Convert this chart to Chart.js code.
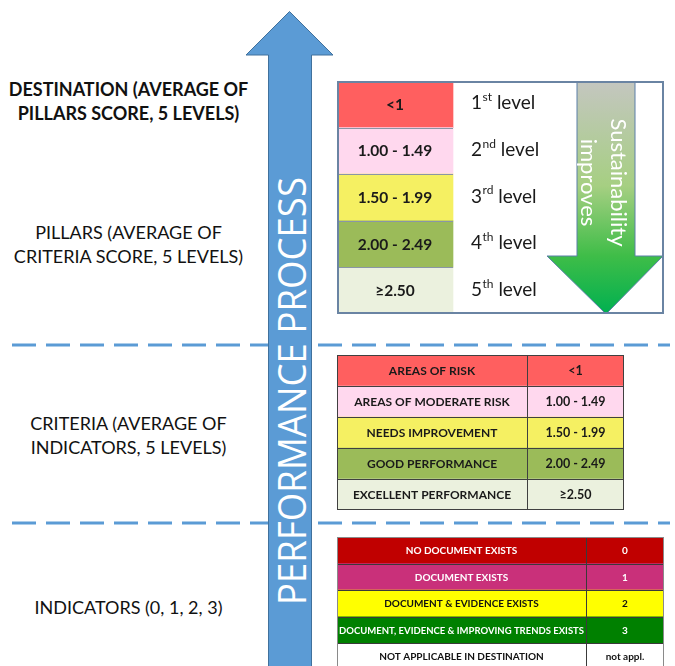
<!DOCTYPE html>
<html>
<head>
<meta charset="utf-8">
<script src="https://cdn.jsdelivr.net/npm/chart.js@4.4.1/dist/chart.umd.min.js"></script>
<style>
  html, body { margin: 0; padding: 0; background: #fff; }
  #stage { position: relative; width: 675px; height: 666px; overflow: hidden; font-family: Lato, "Open Sans", sans-serif; }
  #stage canvas, #stage svg { position: absolute; }
  .tier { position: absolute; left: 0; width: 257px; text-align: center; color: #111; font-size: 18px; line-height: 24.5px; white-space: nowrap; }
  .tier.bold { font-weight: bold; font-size: 18px; }
</style>
</head>
<body>
<div id="stage">
  <svg id="bg" width="675" height="666" style="left:0;top:0">
    <line x1="12" y1="345" x2="670" y2="345" stroke="#5b9bd5" stroke-width="3" stroke-dasharray="24 10" />
    <line x1="12" y1="523" x2="670" y2="523" stroke="#5b9bd5" stroke-width="3" stroke-dasharray="24 10" />
    <polygon points="289.5,11.5 333,55 311.5,55 311.5,670 268.5,670 268.5,55 246,55" fill="#5b9bd5" stroke="#41719c" stroke-width="1" />
    <text id="processText" x="291" y="391" transform="rotate(-90 291 391)" text-anchor="middle" dominant-baseline="central"
      textLength="428" lengthAdjust="spacingAndGlyphs" font-size="38" fill="#fff" font-family="'Open Sans', Lato, sans-serif"></text>
  </svg>
  <canvas id="pillarsTable" width="327" height="233" style="left:337px;top:81px"></canvas>
  <canvas id="criteriaTable" width="287" height="155" style="left:337px;top:355px"></canvas>
  <canvas id="indicatorTable" width="327" height="133" style="left:337px;top:537px"></canvas>
</div>
<script>
// ---- data ----
const processLabel = "PERFORMANCE PROCESS";
const tierLabels = [
  ["DESTINATION (AVERAGE OF", "PILLARS SCORE, 5 LEVELS)"],
  ["PILLARS (AVERAGE OF", "CRITERIA SCORE, 5 LEVELS)"],
  ["CRITERIA (AVERAGE OF", "INDICATORS, 5 LEVELS)"],
  ["INDICATORS (0, 1, 2, 3)"]
];
const scoreRanges = ["<1", "1.00 - 1.49", "1.50 - 1.99", "2.00 - 2.49", "≥2.50"];
const levelNumbers = ["1", "2", "3", "4", "5"];
const levelSuffixes = ["st", "nd", "rd", "th", "th"];
const levelWord = "level";
const improveLabel = ["Sustainability", "improves"];
const criteriaLabels = ["AREAS OF RISK", "AREAS OF MODERATE RISK", "NEEDS IMPROVEMENT", "GOOD PERFORMANCE", "EXCELLENT PERFORMANCE"];
const criteriaRanges = ["<1", "1.00 - 1.49", "1.50 - 1.99", "2.00 - 2.49", "≥2.50"];
const indicatorLabels = ["NO DOCUMENT EXISTS", "DOCUMENT EXISTS", "DOCUMENT & EVIDENCE EXISTS", "DOCUMENT, EVIDENCE & IMPROVING TRENDS EXISTS", "NOT APPLICABLE IN DESTINATION"];
const indicatorScores = ["0", "1", "2", "3", "not appl."];

// ---- styles ----
const levelFills = ["#ff5f5f", "#ffd8ee", "#f5f062", "#9bbb59", "#ebf1de"];
const indicatorFills = ["#c00000", "#c9307a", "#ffff00", "#008000", "#ffffff"];
const indicatorInk = ["#ffffff", "#ffffff", "#111111", "#ffffff", "#111111"];
const FONT = "Lato, 'Open Sans', sans-serif";

// left-hand labels
const tierTops = [76.5, 219.5, 410.5, 594.5];
const stage = document.getElementById("stage");
tierLabels.forEach((lines, i) => {
  const d = document.createElement("div");
  d.className = "tier" + (i === 0 ? " bold" : "");
  d.style.top = tierTops[i] + "px";
  d.innerHTML = lines.map(l => l.replace(/</g, "&lt;")).join("<br>");
  stage.appendChild(d);
});
document.getElementById("processText").textContent = processLabel;

// cell text, drawn at each bar's centre
const cellText = {
  id: "cellText",
  afterDatasetsDraw(chart) {
    const ctx = chart.ctx;
    chart.data.datasets.forEach((ds, di) => {
      if (!ds.texts) return;
      const meta = chart.getDatasetMeta(di);
      meta.data.forEach((bar, i) => {
        const left = Math.min(bar.x, bar.base), right = Math.max(bar.x, bar.base);
        ctx.save();
        ctx.fillStyle = Array.isArray(ds.ink) ? ds.ink[i] : ds.ink;
        ctx.textBaseline = "middle";
        ctx.font = ds.font;
        if (ds.sups) {
          let x = left + ds.pad;
          ctx.textAlign = "left";
          ctx.fillText(ds.texts[i], x, bar.y - 1);
          x += ctx.measureText(ds.texts[i]).width;
          ctx.font = ds.supFont;
          ctx.fillText(ds.sups[i], x + 0.5, bar.y - 7);
          x += ctx.measureText(ds.sups[i]).width + 0.5;
          ctx.font = ds.font;
          ctx.fillText(" " + ds.word, x, bar.y - 1);
        } else {
          ctx.textAlign = "center";
          ctx.fillText(ds.texts[i], (left + right) / 2, bar.y + 0.5, right - left - 4);
        }
        ctx.restore();
      });
    });
  }
};

// grid lines and outer border of a table
const tableGrid = {
  id: "tableGrid",
  afterDatasetsDraw(chart, args, o) {
    const ctx = chart.ctx, a = chart.chartArea;
    const metas = chart.data.datasets.map((d, i) => chart.getDatasetMeta(i));
    ctx.save();
    ctx.strokeStyle = o.color;
    ctx.lineWidth = 1;
    (o.rowCols || []).forEach(ci => {
      const bars = metas[ci].data;
      for (let i = 1; i < bars.length; i++) {
        const y = Math.round(bars[i].y - bars[i].height / 2) + 0.5;
        ctx.beginPath();
        ctx.moveTo(Math.min(bars[i].x, bars[i].base), y);
        ctx.lineTo(Math.max(bars[i].x, bars[i].base), y);
        ctx.stroke();
      }
    });
    if (o.colLines) {
      for (let ci = 0; ci < metas.length - 1; ci++) {
        const x = Math.round(metas[ci].data[0].x) + 0.5;
        ctx.beginPath();
        ctx.moveTo(x, a.top);
        ctx.lineTo(x, a.bottom);
        ctx.stroke();
      }
    }
    ctx.strokeStyle = o.outerColor;
    ctx.lineWidth = o.outerWidth;
    const w = o.outerWidth / 2;
    ctx.strokeRect(a.left + w, a.top + w, a.right - a.left - 2 * w, a.bottom - a.top - 2 * w);
    ctx.restore();
  }
};

// green "Sustainability improves" arrow inside the level table
const improveArrow = {
  id: "improveArrow",
  afterDatasetsDraw(chart) {
    const ctx = chart.ctx, a = chart.chartArea;
    const sl = a.left + 240, sr = a.left + 298, cx = (sl + sr) / 2;
    const headTop = a.top + 175, hl = a.left + 210, hr = a.left + 326;
    const g = ctx.createLinearGradient(0, a.top, 0, a.bottom);
    g.addColorStop(0, "#c4c6c0");
    g.addColorStop(0.45, "#a6cf82");
    g.addColorStop(0.75, "#3fbd48");
    g.addColorStop(1, "#00b050");
    ctx.save();
    ctx.beginPath();
    ctx.moveTo(sl, a.top);
    ctx.lineTo(sr, a.top);
    ctx.lineTo(sr, headTop);
    ctx.lineTo(hr, headTop);
    ctx.lineTo(cx, a.bottom);
    ctx.lineTo(hl, headTop);
    ctx.lineTo(sl, headTop);
    ctx.closePath();
    ctx.fillStyle = g;
    ctx.fill();
    ctx.strokeStyle = "#5a7fa8";
    ctx.lineWidth = 1;
    ctx.stroke();
    ctx.translate(cx - 3, a.top + 101.5);
    ctx.rotate(Math.PI / 2);
    ctx.fillStyle = "#ffffff";
    ctx.font = "22px " + FONT;
    ctx.textAlign = "center";
    ctx.textBaseline = "middle";
    ctx.fillText(improveLabel[0], 0, -15);
    ctx.fillText(improveLabel[1], 0, 15);
    ctx.restore();
  }
};

function makeTable(id, rows, columns, grid, extra) {
  const total = columns.reduce((s, c) => s + c.share, 0);
  return new Chart(document.getElementById(id), {
    type: "bar",
    data: {
      labels: rows,
      datasets: columns.map(c => Object.assign({
        data: rows.map(() => c.share),
        borderWidth: 0,
        barPercentage: 1,
        categoryPercentage: 1
      }, c.ds))
    },
    options: {
      indexAxis: "y",
      responsive: false,
      animation: false,
      events: [],
      layout: { padding: 0 },
      plugins: { legend: { display: false }, tooltip: { enabled: false }, tableGrid: grid },
      scales: {
        x: { stacked: true, display: false, min: 0, max: total },
        y: { stacked: true, display: false }
      }
    },
    plugins: (extra || []).concat([tableGrid, cellText])
  });
}

// pillars / destination levels
makeTable("pillarsTable", scoreRanges, [
  { share: 116, ds: { backgroundColor: levelFills, texts: scoreRanges, ink: "#1a1a1a", font: "bold 15.5px " + FONT } },
  { share: 211, ds: { backgroundColor: "#ffffff", texts: levelNumbers, sups: levelSuffixes, word: levelWord,
      ink: "#1a1a1a", font: "19px " + FONT, supFont: "12px " + FONT, pad: 18 } }
], { color: "#8a96a6", rowCols: [0], colLines: false, outerColor: "#6a84a3", outerWidth: 2 }, [improveArrow]);

// criteria
makeTable("criteriaTable", criteriaLabels, [
  { share: 190, ds: { backgroundColor: levelFills, texts: criteriaLabels, ink: "#1a1a1a", font: "bold 12px " + FONT } },
  { share: 97, ds: { backgroundColor: levelFills, texts: criteriaRanges, ink: "#1a1a1a", font: "bold 12.5px " + FONT } }
], { color: "#404040", rowCols: [0, 1], colLines: true, outerColor: "#404040", outerWidth: 1 });

// indicators
makeTable("indicatorTable", indicatorLabels, [
  { share: 249, ds: { backgroundColor: indicatorFills, texts: indicatorLabels, ink: indicatorInk, font: "bold 10px " + FONT } },
  { share: 78, ds: { backgroundColor: indicatorFills, texts: indicatorScores, ink: indicatorInk, font: "bold 10px " + FONT } }
], { color: "#3a3a3a", rowCols: [0, 1], colLines: true, outerColor: "#8a8a8a", outerWidth: 1 });
</script>
</body>
</html>
